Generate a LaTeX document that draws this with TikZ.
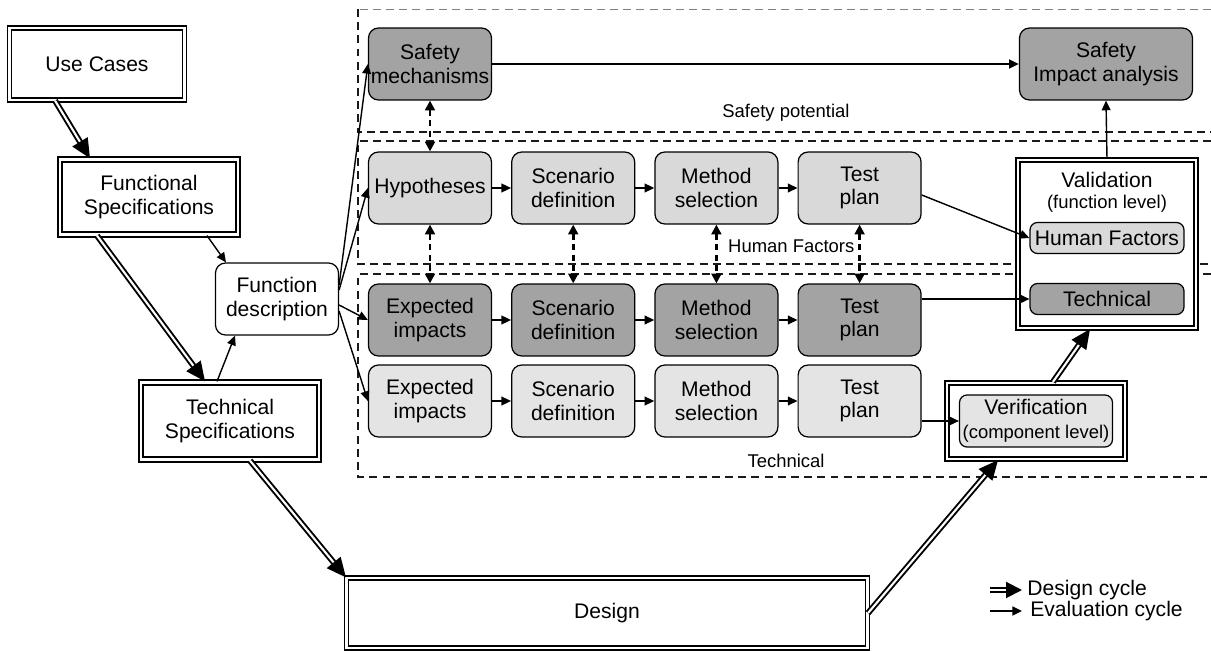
\documentclass[tikz,border=0pt]{standalone}
\usepackage{fontspec}
\setmainfont{Liberation Sans}
\usetikzlibrary{arrows.meta,positioning}
\definecolor{boxDark}{HTML}{A3A3A3}
\definecolor{boxLight}{HTML}{D9D9D9}
\definecolor{boxPale}{HTML}{E4E4E4}
\definecolor{zoneRule}{HTML}{1A1A1A}
\newcommand{\subtxt}{\fontsize{10.5}{12}\selectfont}

\begin{document}
\begin{tikzpicture}[x=0.02cm,y=-0.02cm,font=\fontsize{12}{13.5}\selectfont,
    node distance=0.38cm,
    >={Triangle[length=5.5pt,width=5pt]},
    spec/.style={draw,double,double distance=1.2pt,line width=1.3pt,
                 minimum width=3.56cm,minimum height=1.5cm,align=center,fill=white},
    vbox/.style={draw,double,double distance=1.6pt,line width=0.7pt,align=center,fill=white},
    stepbox/.style={draw,rounded corners=0.2cm,line width=0.7pt,minimum width=2.46cm,
                    minimum height=1.44cm,align=center,inner sep=1pt},
    inbox/.style={draw,rounded corners=0.15cm,line width=0.7pt,minimum width=3.08cm,
                  align=center,inner sep=1pt},
    zone/.style={draw=zoneRule,dash pattern=on 4.5pt off 3pt,line width=0.8pt},
    design/.style={draw,double,double distance=1.2pt,line width=1.1pt,
                   -{Triangle[length=11pt,width=10pt]}},
    evalarr/.style={draw,line width=0.8pt,->},
    pairarr/.style={draw,dash pattern=on 3.5pt off 2.5pt,line width=1.5pt,
                    {Triangle[length=5.5pt,width=5.5pt]}-{Triangle[length=5.5pt,width=5.5pt]}},
    lbl/.style={font=\subtxt}]
    \useasboundingbox (0,0) rectangle (1211,651);

    % dashed zones, open to the right
    \draw[zone,draw=gray,line width=0.5pt] (1211,9) -- (358,9);
    \draw[zone] (358,9) -- (358,132) -- (1211,132);
    \draw[zone] (1211,141) -| (358,264) -- (1211,264);
    \draw[zone] (1211,274) -| (358,477) -- (1211,477);

    % specification side
    \node[vbox,minimum width=3.5cm,minimum height=1.44cm] (uc) at (97,64) {Use Cases};
    \node[spec] (fs) at (149,197) {Functional\\Specifications};
    \node[stepbox,fill=white] (fd) at (277,299) {Function\\description};
    \node[spec,minimum height=1.54cm] (ts) at (230,421) {Technical\\Specifications};
    \node[vbox,minimum width=10.42cm,minimum height=1.4cm] (des) at (607,613) {Design};

    % safety potential
    \node[stepbox,fill=boxDark] (sm) at (430,64) {Safety\\mechanisms};
    \node[stepbox,fill=boxDark,minimum width=3.46cm] (sia) at (1106,64) {Safety\\Impact analysis};
    \node[lbl] (spl) at (786,113) {Safety potential};

    % human factors row
    \node[stepbox,fill=boxLight] (hy) at (430,188) {Hypotheses};
    \node[stepbox,fill=boxLight,right=of hy] (sd1) {Scenario\\definition};
    \node[stepbox,fill=boxLight,right=of sd1] (ms1) {Method\\selection};
    \node[stepbox,fill=boxLight,right=of ms1] (tp1) {Test\\plan};
    \node[lbl,anchor=west] (hfl) at (722,246) {Human Factors};

    % technical rows
    \node[stepbox,fill=boxDark] (ei2) at (430,320) {Expected\\impacts};
    \node[stepbox,fill=boxDark,right=of ei2] (sd2) {Scenario\\definition};
    \node[stepbox,fill=boxDark,right=of sd2] (ms2) {Method\\selection};
    \node[stepbox,fill=boxDark,right=of ms2] (tp2) {Test\\plan};
    \node[stepbox,fill=boxPale] (ei3) at (430,401) {Expected\\impacts};
    \node[stepbox,fill=boxPale,right=of ei3] (sd3) {Scenario\\definition};
    \node[stepbox,fill=boxPale,right=of sd3] (ms3) {Method\\selection};
    \node[stepbox,fill=boxPale,right=of ms3] (tp3) {Test\\plan};
    \node[lbl] (tcl) at (786,461) {Technical};

    % validation and verification
    \node[spec,minimum height=3.36cm] (val) at (1107,244) {};
    \node (valt) at (1107,180) {Validation};
    \node[lbl] (vall) at (1107,204) {(function level)};
    \node[inbox,fill=boxLight,minimum height=0.62cm] (hf) at (1107,238) {Human Factors};
    \node[inbox,fill=boxDark,minimum height=0.62cm] (tc) at (1107,299) {Technical};
    \node[spec,minimum height=1.52cm] (ver) at (1036,421) {};
    \node[inbox,fill=boxPale,minimum width=3.06cm,minimum height=1.04cm] (vin) at (1036,421)
        {Verification\\{\subtxt (component level)}};

    % design cycle
    \draw[design] ([xshift=-0.84cm]uc.south) -- ([xshift=-1.18cm]fs.north);
    \draw[design] ([xshift=-1.04cm]fs.south) -- ([xshift=-0.5cm]ts.north);
    \draw[design] ([xshift=0.4cm]ts.south) -- (des.north west);
    \draw[design] (des.east) -- ([xshift=-0.76cm]ver.south);
    \draw[design] ([xshift=0.34cm]ver.north) -- ([xshift=-0.34cm]val.south);

    % evaluation cycle
    \draw[evalarr] ([xshift=1.16cm]fs.south) -- ([xshift=-1.02cm]fd.north);
    \draw[evalarr] ([xshift=-0.26cm]ts.north) -- ([xshift=-0.84cm]fd.south);
    \draw[evalarr] ([yshift=0.28cm]fd.east) -- (sm.west);
    \draw[evalarr] ([yshift=0.18cm]fd.east) -- (hy.west);
    \draw[evalarr] ([yshift=-0.12cm]fd.east) -- (ei2.west);
    \draw[evalarr] ([yshift=-0.24cm]fd.east) -- (ei3.west);
    \foreach \a/\b in {hy/sd1,sd1/ms1,ms1/tp1,ei2/sd2,sd2/ms2,ms2/tp2,ei3/sd3,sd3/ms3,ms3/tp3}
        \draw[evalarr] (\a.east) -- (\b.west);
    \draw[evalarr,line width=1.2pt] (sm) -- (sia);
    \draw[evalarr] (val.north) -- (sia.south);
    \draw[evalarr] ([yshift=-0.14cm]tp1.east) -- (hf.west);
    \draw[evalarr] (tp2.east |- tc.west) -- (tc.west);
    \draw[evalarr] (tp3.east |- vin.west) -- (vin.west);

    % links between rows
    \draw[pairarr] (sm) -- (hy);
    \foreach \a/\b in {hy/ei2,sd1/sd2,ms1/ms2,tp1/tp2}
        \draw[pairarr] (\a) -- (\b);

    % legend
    \coordinate (lg1a) at (990,590);
    \coordinate (lg1b) at (1022,590);
    \coordinate (lg2a) at (990,611);
    \coordinate (lg2b) at (1022,611);
    \draw[design,-{Triangle[length=9pt,width=9pt]}] (lg1a) -- (lg1b);
    \draw[evalarr,line width=1.2pt] (lg2a) -- (lg2b);
    \node[anchor=west,inner sep=0pt] (lg1) at (1027,590) {Design cycle};
    \node[anchor=west,inner sep=0pt] (lg2) at (1030,611) {Evaluation cycle};
\end{tikzpicture}
\end{document}
